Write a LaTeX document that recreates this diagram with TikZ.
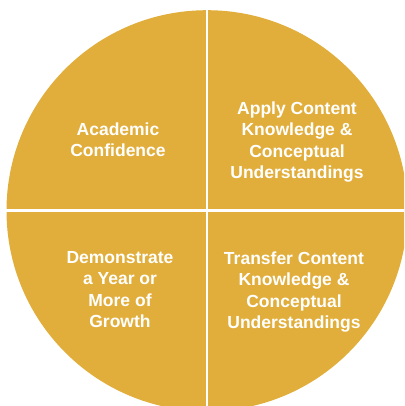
\documentclass[tikz,border=0pt]{standalone}
\usepackage{fontspec}
\setmainfont{Liberation Sans}
\usetikzlibrary{positioning}
\definecolor{wheelgold}{RGB}{225,174,59}
\begin{document}
\begin{tikzpicture}[x=1pt,y=-1pt]

	\tikzstyle{quadtext}=[text=white, align=center, inner sep=0pt, font=\bfseries\fontsize{17.5}{21.5}\selectfont];
	\tikzstyle{splitline}=[draw=white, line width=2.7pt];
	\begin{scope}

		\clip (0,0) rectangle (404,406);
		\coordinate (hub) at (207,210.7);
		\coordinate (top_end) at (207,0);
		\coordinate (bottom_end) at (207,406);
		\coordinate (left_end) at (0,210.7);
		\coordinate (right_end) at (404,210.7);
		\fill[wheelgold] (hub) circle [radius=200.5pt];
		\path[splitline] (top_end) -- (bottom_end);
		\path[splitline] (left_end) -- (right_end);

		\node (academic) at (118,139.5) [quadtext]{Academic\\Confidence};
		\node (apply) at (297,142) [quadtext]{Apply Content\\Knowledge \&\\Conceptual\\Understandings};
		\node (demonstrate) at (120,289.5) [quadtext]{Demonstrate\\a Year or\\More of\\Growth};
		\node (transfer) at (294,292) [quadtext]{Transfer Content\\Knowledge \&\\Conceptual\\Understandings};

	\end{scope}
\end{tikzpicture}
\end{document}
